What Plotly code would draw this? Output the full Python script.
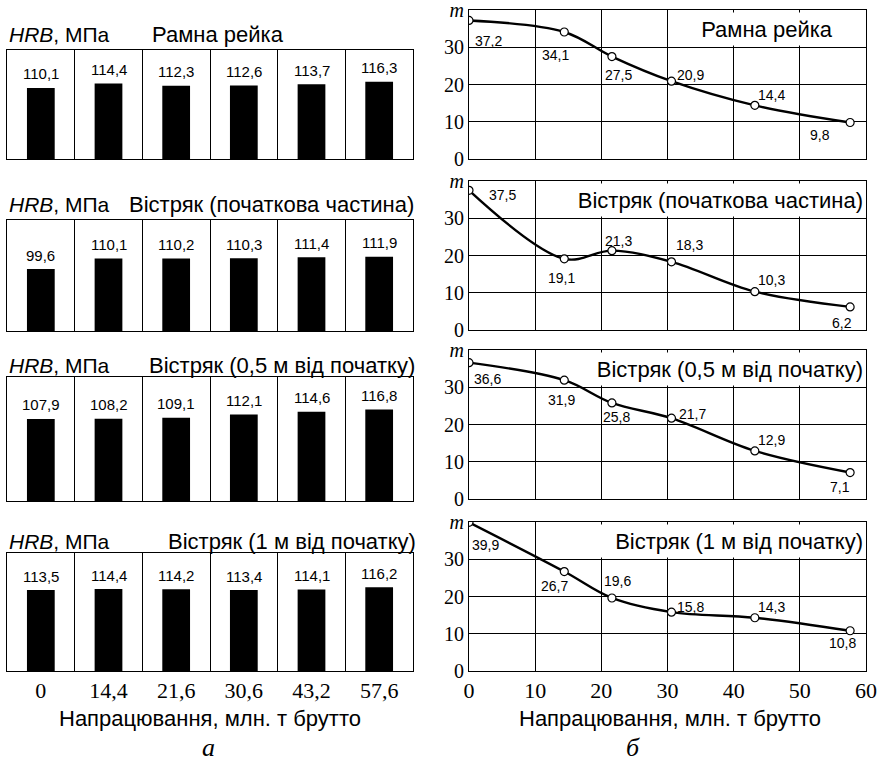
import plotly.graph_objects as go

# ---------------- data ----------------
work = [0, 14.4, 21.6, 30.6, 43.2, 57.6]
work_labels = ["0", "14,4", "21,6", "30,6", "43,2", "57,6"]
panel_titles = ["Рамна рейка", "Вістряк (початкова частина)",
                "Вістряк (0,5 м від початку)", "Вістряк (1 м від початку)"]

hrb_rail = [110.1, 114.4, 112.3, 112.6, 113.7, 116.3]
hrb_tip_start = [99.6, 110.1, 110.2, 110.3, 111.4, 111.9]
hrb_tip_05 = [107.9, 108.2, 109.1, 112.1, 114.6, 116.8]
hrb_tip_1 = [113.5, 114.4, 114.2, 113.4, 114.1, 116.2]

m_rail = [37.2, 34.1, 27.5, 20.9, 14.4, 9.8]
m_tip_start = [37.5, 19.1, 21.3, 18.3, 10.3, 6.2]
m_tip_05 = [36.6, 31.9, 25.8, 21.7, 12.9, 7.1]
m_tip_1 = [39.9, 26.7, 19.6, 15.8, 14.3, 10.8]

m_ticks = [0, 10, 20, 30, 40]
m_ticktext = ["0", "10", "20", "30", "<i>m</i>"]

hrb_series = [hrb_rail, hrb_tip_start, hrb_tip_05, hrb_tip_1]
m_series = [m_rail, m_tip_start, m_tip_05, m_tip_1]

# ---------------- layout config ----------------
W, H = 878, 765
SANS = "Liberation Sans, Arial, sans-serif"
SERIF = "Liberation Serif, Times New Roman, serif"


def px(p):
    return p / W


def py(p):
    return 1 - p / H


left_x = (7, 413)
right_x = (469, 866)
left_y = [(50, 159), (220, 331), (377, 501), (553, 671)]
right_y = [(10, 159), (181, 330), (350, 499), (522, 671)]
bar_ranges = [(39, 148), (37.6, 148.6), (30.5, 147.5), (32.5, 150.5)]
hrb_title_y = [35, 205, 365, 541]
left_title_pos = [(150, "left"), (416, "right"), (417, "right"), (418, "right")]
right_title_box = [(192, "center"), (318, "right"), (277, "right"), (300, "right")]

# label offsets (pixels, dx right, dy down) for the m-values
m_label_offsets = [
    [(20, 21), (-9, 23), (7, 18), (19, -6), (17, -10), (-30, 13)],
    [(34, 5), (-3, 19), (7, -10), (18, -17), (17, -12), (-8, 16)],
    [(19, 16), (-3, 20), (5, 14), (21, -4), (17, -11), (-10, 14)],
    [(17, 23), (-10, 14), (6, -17), (19, -5), (17, -11), (-8, 12)],
]


def fmt(v):
    return f"{v:.1f}".replace(".", ",")


fig = go.Figure()
annotations = []
layout = dict(
    width=W, height=H,
    margin=dict(l=0, r=0, t=0, b=0, autoexpand=False),
    paper_bgcolor="white", plot_bgcolor="white",
    showlegend=False,
    font=dict(family=SANS, color="black"),
)

idx = list(range(len(work_labels)))

for i in range(4):
    la = 2 * i + 1
    ra = 2 * i + 2
    lx = "x" if la == 1 else f"x{la}"
    ly = "y" if la == 1 else f"y{la}"
    rx = f"x{ra}"
    ry = f"y{ra}"
    bottom = (i == 3)

    # ---- bars ----
    fig.add_trace(go.Bar(x=idx, y=hrb_series[i], xaxis=lx, yaxis=ly,
                         width=0.41, marker=dict(color="black", line=dict(width=0)),
                         base=0, hoverinfo="skip"))
    for xi, v in zip(idx, hrb_series[i]):
        annotations.append(dict(x=xi, y=v, xref=lx, yref=ly, text=fmt(v),
                                showarrow=False, yshift=14, xanchor="center", yanchor="middle",
                                font=dict(family=SANS, size=15, color="black")))

    layout[f"xaxis{'' if la == 1 else la}"] = dict(
        domain=[px(left_x[0]), px(left_x[1])], anchor=ly, automargin=False,
        range=[-0.5, len(idx) - 0.5], showgrid=False, zeroline=False,
        showline=True, mirror=True, linecolor="black", linewidth=1,
        tickvals=idx, ticktext=work_labels, showticklabels=bottom, ticks="",
        tickfont=dict(family=SERIF, size=22, color="black"),
        minor=dict(tickvals=[k + 0.5 for k in idx[:-1]], showgrid=True,
                   gridcolor="black", gridwidth=1, ticks=""),
    )
    layout[f"yaxis{'' if la == 1 else la}"] = dict(
        domain=[py(left_y[i][1]), py(left_y[i][0])], anchor=lx, automargin=False,
        range=list(bar_ranges[i]), showgrid=False, zeroline=False,
        showline=True, mirror=True, linecolor="black", linewidth=1,
        showticklabels=False, ticks="",
    )

    annotations.append(dict(xref="paper", yref="paper", x=px(7), y=py(hrb_title_y[i]),
                            xanchor="left", yanchor="middle", showarrow=False,
                            text="<i>HRB</i>, МПа",
                            font=dict(family=SANS, size=21, color="black")))
    tx, ta = left_title_pos[i]
    annotations.append(dict(xref="paper", yref="paper", x=px(tx), y=py(hrb_title_y[i]),
                            xanchor=ta, yanchor="middle", showarrow=False,
                            text=panel_titles[i],
                            font=dict(family=SANS, size=22, color="black")))

    # ---- lines ----
    fig.add_trace(go.Scatter(x=work, y=m_series[i], xaxis=rx, yaxis=ry,
                             mode="lines+markers",
                             line=dict(color="black", width=2.4, shape="spline", smoothing=1.0),
                             marker=dict(symbol="circle", size=8, color="white",
                                         line=dict(color="black", width=1.2)),
                             hoverinfo="skip"))
    for (xv, yv), (dx, dy) in zip(zip(work, m_series[i]), m_label_offsets[i]):
        annotations.append(dict(x=xv, y=yv, xref=rx, yref=ry, text=fmt(yv),
                                showarrow=False, xshift=dx, yshift=-dy,
                                xanchor="center", yanchor="middle",
                                font=dict(family=SANS, size=14, color="black")))

    layout[f"xaxis{ra}"] = dict(
        domain=[px(right_x[0]), px(right_x[1])], anchor=ry, automargin=False,
        range=[0, 60], dtick=10, tick0=0,
        showgrid=True, gridcolor="black", gridwidth=1, zeroline=False,
        showline=True, mirror=True, linecolor="black", linewidth=1,
        showticklabels=bottom, ticks="", ticklabeloverflow="allow",
        tickfont=dict(family=SERIF, size=22, color="black"),
    )
    layout[f"yaxis{ra}"] = dict(
        domain=[py(right_y[i][1]), py(right_y[i][0])], anchor=rx, automargin=False,
        range=[0, 40], tickvals=m_ticks, ticktext=m_ticktext,
        showgrid=True, gridcolor="black", gridwidth=1, zeroline=False,
        showline=True, mirror=True, linecolor="black", linewidth=1,
        ticks="", ticklabeloverflow="allow",
        tickfont=dict(family=SERIF, size=20, color="black"),
    )

    bw, balign = right_title_box[i]
    annotations.append(dict(xref=f"{rx} domain", yref=f"{ry} domain", x=1, y=1,
                            xanchor="right", yanchor="top", xshift=-2, yshift=-2,
                            width=bw, height=32, align=balign, valign="middle",
                            bgcolor="white", borderpad=0, showarrow=False,
                            text=panel_titles[i],
                            font=dict(family=SANS, size=22, color="black")))

# axis titles and panel letters
common = dict(xref="paper", yref="paper", showarrow=False, xanchor="center", yanchor="middle")
annotations.append(dict(x=px(210), y=py(718), text="Напрацювання, млн. т брутто",
                        font=dict(family=SANS, size=22, color="black"), **common))
annotations.append(dict(x=px(670), y=py(718), text="Напрацювання, млн. т брутто",
                        font=dict(family=SANS, size=22, color="black"), **common))
annotations.append(dict(x=px(208), y=py(747), text="<i>а</i>",
                        font=dict(family=SERIF, size=26, color="black"), **common))
annotations.append(dict(x=px(633), y=py(747), text="<i>б</i>",
                        font=dict(family=SERIF, size=26, color="black"), **common))

layout["annotations"] = annotations
fig.update_layout(**layout)
fig.write_html("out.html", config={"displayModeBar": False},
               post_script="document.body.style.margin='0';document.body.style.overflow='hidden';")
